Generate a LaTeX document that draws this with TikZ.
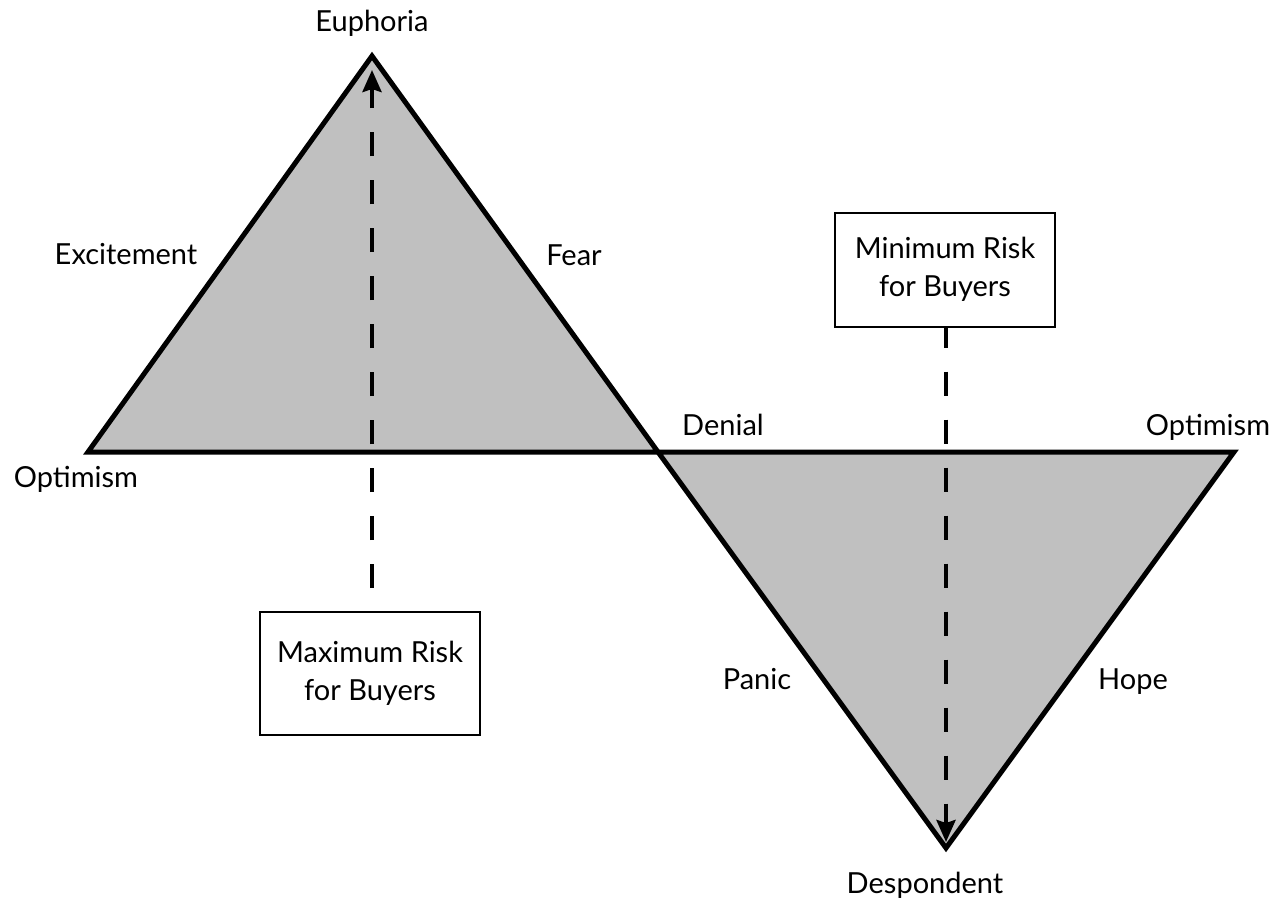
\documentclass[tikz,border=0pt]{standalone}
\usepackage{fontspec}
\setmainfont{Lato}
\usetikzlibrary{arrows.meta}
\definecolor{fillgray}{HTML}{C0C0C0}
\tikzset{
  tri/.style={draw=black, fill=fillgray, line width=5pt, line join=miter},
  lbl/.style={anchor=base, inner sep=0pt, font=\fontsize{29}{34}\selectfont},
  riskbox/.style={draw=black, line width=2pt, minimum width=220pt, align=center, inner sep=0pt, font=\fontsize{29}{38}\selectfont},
  dasharrow/.style={line width=4pt, dash pattern=on 24pt off 24pt, -{Stealth[length=22pt,width=19pt,inset=3pt]}}
}
\begin{document}
\begin{tikzpicture}[x=1pt,y=-1pt]
\useasboundingbox (0,0) rectangle (1283,903);
% vertices
\coordinate (L) at (88,452);
\coordinate (A) at (372,56);
\coordinate (M) at (658,452);
\coordinate (R) at (1234,452);
\coordinate (B) at (946,848);
\filldraw[tri] (L) -- (A) -- (M) -- cycle;
\filldraw[tri] (M) -- (R) -- (B) -- cycle;
% labels
\node[lbl] (euph) at (372,31) {Euphoria};
\node[lbl] (exc) at (126,264) {Excitement};
\node[lbl] (fear) at (574,265) {Fear};
\node[lbl] (den) at (723,435) {Denial};
\node[lbl] (optl) at (76,487) {Optimism};
\node[lbl] (optr) at (1208,435) {Optimism};
\node[lbl] (pan) at (757,689) {Panic};
\node[lbl] (hope) at (1133,689) {Hope};
\node[lbl] (desp) at (925,893) {Despondent};
% boxes
\node[riskbox, minimum height=123pt] (maxbox) at (370,673.5) {Maximum Risk\\for Buyers};
\node[riskbox, minimum height=114pt] (minbox) at (945,269.5) {Minimum Risk\\for Buyers};
% arrow ends
\coordinate (toptip) at (372,70);
\coordinate (bottip) at (946,842);
\coordinate (maxtop) at (372,612);
\draw[dasharrow, dash phase=24pt] (maxtop) -- (toptip);
\draw[dasharrow, dash phase=4pt] (minbox.south -| bottip) -- (bottip);
\end{tikzpicture}
\end{document}
